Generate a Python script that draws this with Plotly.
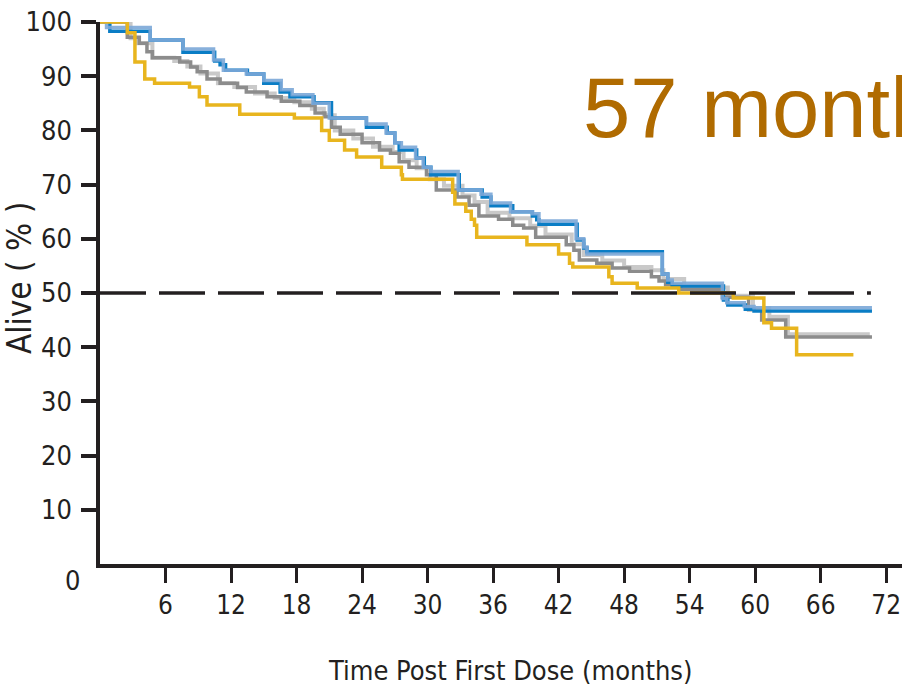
import plotly.graph_objects as go

# Kaplan-Meier step curves: month at which each step starts, and % alive after it
blue_t = [0, 0.9, 4.6, 7.6, 10.5, 11.0, 11.5, 13.5, 15.0, 16.5, 17.4, 19.6, 21.2, 24.4, 26.3, 27.0,
          27.4, 29.0, 29.7, 30.3, 32.9, 35.0, 35.8, 37.8, 39.6, 40.0, 40.2, 43.7, 44.3, 44.6,
          51.5, 52.0, 52.4, 57.1, 57.5, 59.1, 59.9, 70.7]
blue_v = [100, 98.3, 96.7, 94.4, 92.8, 92.1, 91.1, 90.4, 88.7, 87.1, 86.2, 85.1, 82.3, 80.6, 79.5, 77.7,
          76.4, 74.9, 73.2, 71.8, 69.0, 67.7, 66.1, 65.0, 64.2, 63.5, 62.7, 59.8, 58.3, 57.6,
          53.5, 52.0, 51.3, 48.7, 47.8, 47.0, 46.7, 46.7]

lblue_t = [0, 0.6, 4.6, 7.6, 10.4, 11.3, 13.4, 15.0, 16.6, 17.6, 19.5, 21.0, 24.4, 26.2, 27.0, 27.6,
           28.9, 29.6, 30.3, 32.8, 34.9, 35.8, 37.6, 39.6, 40.2, 43.6, 44.3, 44.6, 51.5, 52.0,
           52.4, 57.0, 57.4, 59.0, 59.9, 70.7]
lblue_v = [100, 99.0, 96.7, 95.0, 93.0, 91.1, 90.4, 89.2, 87.5, 86.6, 85.0, 82.3, 81.2, 79.5, 77.7, 76.9,
           74.9, 73.2, 72.4, 69.0, 68.2, 66.6, 65.0, 64.6, 63.3, 60.0, 58.5, 57.2, 53.5, 52.4,
           51.8, 49.0, 48.2, 47.5, 47.3, 47.3]

gray_t = [0, 2.5, 3.6, 4.3, 4.8, 7.3, 8.3, 8.9, 9.8, 11.0, 12.6, 13.4, 15.3, 16.6, 18.3, 19.7, 20.6,
          21.2, 22.0, 24.0, 25.6, 26.6, 27.4, 28.3, 29.9, 30.8, 32.7, 33.8, 34.7, 36.5, 37.8,
          38.8, 39.9, 42.7, 43.4, 43.9, 45.5, 46.9, 48.5, 50.5, 51.2, 51.8, 53.2, 57.0, 59.4,
          60.6, 62.8, 70.7]
gray_v = [100, 97.2, 96.1, 94.5, 93.4, 92.6, 91.7, 90.8, 89.5, 88.7, 87.9, 87.1, 86.2, 85.4, 84.6, 83.2,
          82.5, 80.6, 79.3, 77.7, 76.4, 75.8, 74.2, 73.2, 71.8, 69.0, 67.7, 66.2, 64.2, 63.6,
          62.5, 62.0, 60.3, 58.9, 57.9, 56.1, 55.5, 54.6, 54.0, 53.0, 52.2, 51.5, 50.7, 49.2,
          46.9, 45.0, 41.9, 41.9]

lgray_t = [0, 2.8, 3.4, 4.8, 6.8, 8.0, 9.2, 10.8, 12.3, 14.2, 16.0, 17.8, 19.4, 20.5, 21.5, 23.2,
           25.0, 26.8, 27.8, 29.0, 30.2, 31.5, 33.2, 34.3, 35.5, 37.5, 39.4, 40.8, 43.2, 44.3,
           46.0, 48.0, 50.5, 51.6, 53.5, 57.5, 59.8, 61.3, 63.0, 70.5]
lgray_v = [100, 97.0, 96.1, 93.4, 92.8, 91.8, 90.5, 88.7, 88.0, 86.8, 86.0, 85.2, 84.0, 82.8, 80.0, 78.5,
           77.0, 76.0, 74.5, 73.0, 71.0, 69.8, 68.0, 66.8, 64.8, 63.8, 62.4, 60.8, 59.0, 57.0,
           56.0, 54.8, 54.2, 52.6, 51.0, 49.5, 47.2, 45.6, 42.4, 42.4]

gold_t = [0, 2.5, 3.2, 4.1, 5.0, 8.2, 9.1, 9.8, 12.8, 17.8, 20.3, 21.0, 22.4, 23.5, 25.8, 27.6,
          27.7, 32.3, 32.5, 33.5, 34.0, 34.3, 34.5, 39.1, 42.0, 43.0, 43.3, 46.6, 46.9, 49.2,
          53.0, 58.0, 60.8, 61.5, 63.8, 69.0]
gold_v = [100, 98.0, 92.6, 89.5, 88.7, 88.0, 86.2, 84.7, 83.0, 82.3, 80.0, 78.2, 76.4, 75.1, 73.2, 71.8,
          71.0, 68.6, 66.4, 65.1, 63.6, 62.5, 60.3, 58.9, 57.2, 55.5, 54.8, 53.0, 51.8, 50.9,
          50.0, 49.1, 44.5, 43.5, 38.6, 38.6]

x_ticks = [6, 12, 18, 24, 30, 36, 42, 48, 54, 60, 66, 72]
y_ticks = [10, 20, 30, 40, 50, 60, 70, 80, 90, 100]
median_line = 50
median_text = "57 months"

INK = "#231F20"
NARROW = "DejaVu Sans Condensed, Liberation Sans Narrow, sans-serif"

fig = go.Figure()

series = [
    (lgray_t, lgray_v, "#C9C9C9", 4),
    (gray_t, gray_v, "#8C8C8C", 3.5),
    (blue_t, blue_v, "#0A7DC5", 3.5),
    (lblue_t, lblue_v, "rgba(123,167,215,0.9)", 3.5),
    (gold_t, gold_v, "#E8B51E", 3.5),
]
for t, v, color, w in series:
    fig.add_trace(go.Scatter(
        x=t, y=v, mode="lines", line=dict(color=color, width=w, shape="hv"),
        cliponaxis=False, hoverinfo="skip", showlegend=False,
    ))

# 50% reference line
fig.add_shape(type="line", xref="x", yref="y", x0=0, x1=70.6, y0=median_line, y1=median_line,
              line=dict(color=INK, width=3.5, dash="46px,13px"), layer="above")

fig.add_annotation(text=median_text, xref="paper", yref="paper", x=0.600, y=0.843,
                   xanchor="left", yanchor="middle", showarrow=False,
                   font=dict(family="Liberation Sans, Arial, sans-serif", size=85, color="#B06B00"))

# "0" label sits at the corner, left of the origin
fig.add_annotation(text="0", xref="x", yref="paper", x=0, y=0, xshift=-28, yshift=-34,
                   showarrow=False, font=dict(family=NARROW, size=27, color=INK))

# axis titles
fig.add_annotation(text="Time Post First Dose (months)", xref="paper", yref="paper",
                   x=(510 - 100) / 802, y=-(670 - 564) / 542, xanchor="center", yanchor="middle",
                   showarrow=False, font=dict(family=NARROW, size=27, color=INK))
fig.add_annotation(text="Alive ( % )", xref="paper", yref="paper", textangle=-90,
                   x=-(100 - 19) / 802, y=(564 - 278) / 542, xanchor="center", yanchor="middle",
                   showarrow=False, font=dict(family=NARROW, size=33, color=INK))

fig.update_layout(
    width=902, height=689,
    margin=dict(l=100, r=0, t=22, b=125),
    paper_bgcolor="white", plot_bgcolor="white",
    xaxis=dict(range=[0, 73.45], tickvals=x_ticks, ticks="outside", ticklen=15, tickwidth=3,
               tickcolor=INK, showline=True, linecolor=INK, linewidth=3.5, showgrid=False,
               zeroline=False, automargin=False, ticklabeloverflow="allow",
               tickfont=dict(family=NARROW, size=26, color=INK)),
    yaxis=dict(range=[0, 100], tickvals=y_ticks, ticks="outside", ticklen=15, tickwidth=3.5,
               tickcolor=INK, showline=True, linecolor=INK, linewidth=3.5, showgrid=False,
               zeroline=False, automargin=False, ticklabelstandoff=4,
               tickfont=dict(family=NARROW, size=27, color=INK)),
)

fig.write_html("out.html")
